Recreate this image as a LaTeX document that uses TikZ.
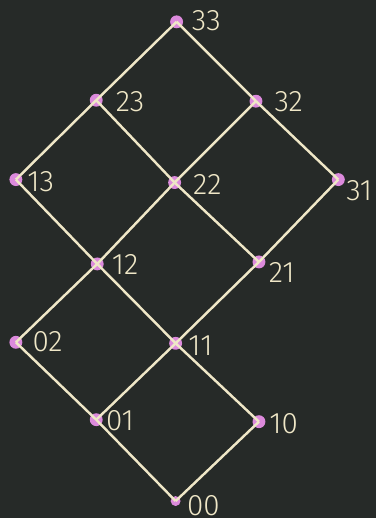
\documentclass[tikz,border=0pt]{standalone}
\usepackage{fontspec}
\setmainfont{Fira Sans Light}
\usepackage{tikz}
\usetikzlibrary{positioning}
\definecolor{board-bg}{HTML}{262A28}
\definecolor{chalk}{HTML}{EFE7C7}
\definecolor{dot-pink}{HTML}{DC8ADC}

\begin{document}
\begin{tikzpicture}[x=0.02cm, y=-0.02cm,
        pt/.style={circle, fill=dot-pink, inner sep=0pt, minimum size=0.26cm},
        lbl/.style={text=chalk, font=\fontsize{17}{17}\selectfont},
        edge/.style={chalk, line width=1.4pt}]
        \fill[board-bg] (0,0) rectangle (379,522);
        % lattice points
        \node[pt] (p33) at (178,22) {};
        \node[pt] (p23) at (97,101) {};
        \node[pt] (p32) at (258,102) {};
        \node[pt] (p13) at (16,181) {};
        \node[pt] (p22) at (176,184) {};
        \node[pt] (p31) at (341,181) {};
        \node[pt] (p12) at (98,266) {};
        \node[pt] (p21) at (261,264) {};
        \node[pt] (p02) at (16,345) {};
        \node[pt] (p11) at (177,346) {};
        \node[pt] (p01) at (97,423) {};
        \node[pt] (p10) at (261,425) {};
        \node[pt, minimum size=0.2cm] (p00) at (177,505) {};
        % labels
        \node[lbl] (l33) at (208,21) {33};
        \node[lbl] (l23) at (131,102) {23};
        \node[lbl] (l32) at (291,102) {32};
        \node[lbl] (l13) at (41,183) {13};
        \node[lbl] (l22) at (209,186) {22};
        \node[lbl] (l31) at (362,192) {31};
        \node[lbl] (l12) at (126,267) {12};
        \node[lbl] (l21) at (284,275) {21};
        \node[lbl] (l02) at (48,344) {02};
        \node[lbl] (l11) at (202,348) {11};
        \node[lbl] (l01) at (121,424) {01};
        \node[lbl] (l10) at (286,427) {10};
        \node[lbl] (l00) at (205,510) {00};
        % edges
        \foreach \a/\b in {33/23, 33/32, 23/13, 23/22, 32/22, 32/31,
                           13/12, 22/12, 22/21, 31/21, 12/02, 12/11,
                           21/11, 02/01, 11/01, 11/10, 01/00, 10/00}
          \draw[edge] (p\a.center) -- (p\b.center);
\end{tikzpicture}
\end{document}
